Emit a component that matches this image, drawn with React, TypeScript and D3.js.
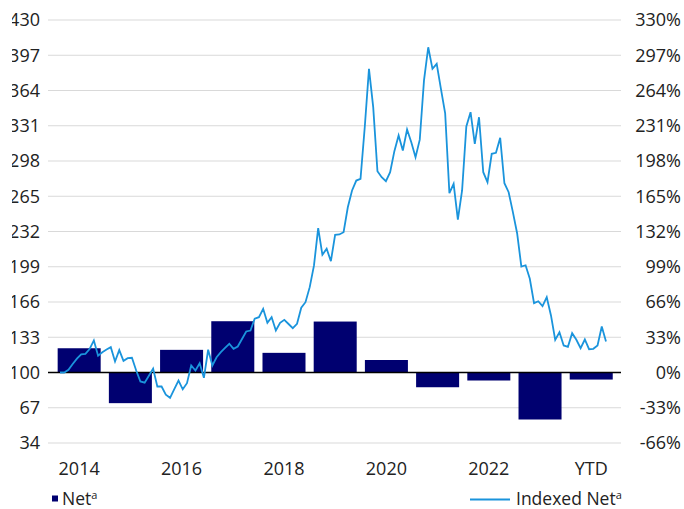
import React from "react";
import * as d3 from "d3";

const categories = ["2014", "2015", "2016", "2017", "2018", "2019", "2020", "2021", "2022", "2023", "YTD"];
const netValues = [122.7, 71.3, 121.2, 148, 118.4, 147.7, 111.7, 86.2, 92.5, 56, 93.4];
const xTickLabels = ["2014", "2016", "2018", "2020", "2022", "YTD"];
const leftTicks = [430, 397, 364, 331, 298, 265, 232, 199, 166, 133, 100, 67, 34];
const rightTicks = [330, 297, 264, 231, 198, 165, 132, 99, 66, 33, 0, -33, -66];

// Indexed Net, monthly, % change
const indexedNet = [
  0, 0, 2.5, 8, 13, 17, 17.5, 22, 30, 15.7,
  19, 21.5, 23.7, 10.3, 21, 10.9, 13.4, 13.8, 1.9, -8.4,
  -9.5, -3, 3.7, -13.1, -13.1, -20.8, -23.7, -15.6, -7.5, -15.7,
  -10, 6.6, 1.9, 8.7, -5, 21.3, 6.6, 14.3, 19, 23,
  26.9, 22.2, 24.3, 31.4, 38.4, 39.3, 50.3, 51.8, 59.6, 46.5,
  51.8, 39.3, 46.5, 49.3, 45.4, 41.5, 45.6, 60.6, 65.8, 79.9,
  100, 135.1, 110.2, 115.8, 104.2, 128.9, 129.2, 131.3, 154.7, 170.4,
  179.7, 181.3, 229.6, 284.3, 248.4, 188.4, 182.8, 179.1, 187.5, 207.2,
  221.9, 207.8, 227.5, 215.6, 201.6, 218, 273.4, 304.5, 284.3, 289,
  265.6, 242.7, 167.9, 176.6, 143.2, 170.4, 230.3, 243.7, 214.1, 239,
  187.5, 178.2, 204.7, 205.7, 219.7, 177.2, 168.8, 150.1, 130.4, 99.2,
  100.4, 87.7, 64.9, 66.7, 62.1, 70.5, 53.4, 30.6, 37.7, 25.3,
  24.1, 36.8, 30.6, 22.7, 30.9, 21.8, 22.2, 25.3, 43.1, 29,
];

const W = 684;
const H = 509;
const FONT = "'Open Sans', 'Noto Sans', sans-serif";
const TEXT = "#222";
const BAR = "#000070";
const LINE = "#1a94dc";
const GRID = "#d9d9d9";

export default function App() {
  const plotLeft = 48;
  const plotRight = 621;
  const x = d3.scaleBand<string>().domain(categories).range([plotLeft + 0.7, plotRight + 0.7]).paddingInner(0.16).paddingOuter(0.175);
  const yL = d3.scaleLinear().domain([34, 430]).range([443, 20]);
  const yR = d3.scaleLinear().domain([-66, 330]).range([443, 20]);
  const xLine = d3.scaleLinear().domain([0, indexedNet.length - 1]).range([60, 606]);
  const linePath = d3
    .line<number>()
    .x((_, i) => xLine(i))
    .y((d) => yR(d))(indexedNet);

  return (
    <svg width={W} height={H} style={{ position: "absolute", left: 0, top: 0, background: "#fff" }} fontFamily={FONT}>
      <defs>
        <clipPath id="leftClip">
          <rect x={12} y={0} width={40} height={H} />
        </clipPath>
      </defs>
      {leftTicks.map((t) => (
        <line key={"g" + t} x1={plotLeft} x2={plotRight} y1={yL(t)} y2={yL(t)} stroke={GRID} strokeWidth={1.2} />
      ))}
      {categories.map((c, i) => {
        const v = netValues[i];
        const y0 = yL(100);
        const y1 = yL(v);
        return <rect key={c} x={x(c)} width={x.bandwidth()} y={Math.min(y0, y1)} height={Math.abs(y1 - y0)} fill={BAR} />;
      })}
      <line x1={plotLeft} x2={plotRight} y1={yL(100)} y2={yL(100)} stroke="#000" strokeWidth={1.3} />
      <path d={linePath || ""} fill="none" stroke={LINE} strokeWidth={1.8} strokeLinejoin="miter" />
      <g clipPath="url(#leftClip)">
        {leftTicks.map((t) => (
          <text key={"l" + t} x={40} y={yL(t)} dy="0.36em" textAnchor="end" fontSize={18} fill={TEXT}>
            {t}
          </text>
        ))}
      </g>
      {rightTicks.map((t) => (
        <text key={"r" + t} x={681} y={yR(t)} dy="0.36em" textAnchor="end" fontSize={18} fill={TEXT}>
          {t + "%"}
        </text>
      ))}
      {categories.map((c) =>
        xTickLabels.includes(c) ? (
          <text key={"x" + c} x={(x(c) || 0) + x.bandwidth() / 2} y={475} textAnchor="middle" fontSize={18} fill={TEXT}>
            {c}
          </text>
        ) : null
      )}
      <rect x={52} y={495.5} width={6} height={6} fill={BAR} />
      <text x={62} y={505} fontSize={17.5} fill={TEXT}>
        Net<tspan dy={-6} fontSize={11}>a</tspan>
      </text>
      <line x1={470} x2={510} y1={499.5} y2={499.5} stroke={LINE} strokeWidth={1.8} />
      <text x={516} y={505} fontSize={17.5} fill={TEXT}>
        Indexed Net<tspan dy={-6} fontSize={11}>a</tspan>
      </text>
    </svg>
  );
}
